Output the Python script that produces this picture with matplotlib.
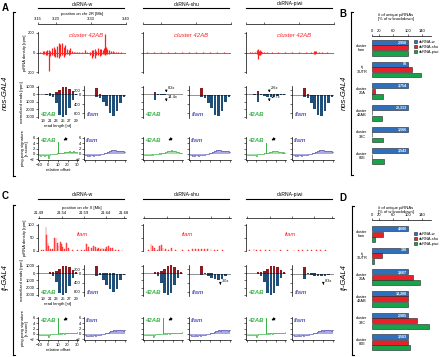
import numpy as np
import matplotlib.pyplot as plt
from matplotlib.lines import Line2D
from matplotlib.patches import Patch
from matplotlib.transforms import blended_transform_factory

plt.rcParams['font.family'] = ['Liberation Sans', 'DejaVu Sans']
plt.rcParams['axes.linewidth'] = 0.5
plt.rcParams['xtick.major.width'] = 0.4
plt.rcParams['ytick.major.width'] = 0.4
plt.rcParams['xtick.major.size'] = 1.5
plt.rcParams['ytick.major.size'] = 1.5
plt.rcParams['xtick.major.pad'] = 0.8
plt.rcParams['ytick.major.pad'] = 0.8
plt.rcParams['xtick.labelsize'] = 3
plt.rcParams['ytick.labelsize'] = 3

# ---------------- data ----------------
knockdowns = ['dsRNA-w', 'dsRNA-shu', 'dsRNA-piwi']

# piRNA density, panel A (chr 2R, cluster 42AB), plus / minus strand
a_w_pos = [3.157, 3.163, 3.167, 3.172, 3.176, 3.181, 3.185, 3.190, 3.195, 3.199,
           3.204, 3.209, 3.213, 3.218, 3.223, 3.227, 3.232, 3.237, 3.241, 3.246,
           3.251, 3.256, 3.260, 3.266, 3.274, 3.283, 3.290, 3.298, 3.303, 3.307,
           3.311, 3.316, 3.321, 3.325, 3.330, 3.335, 3.338, 3.341, 3.344, 3.347,
           3.352, 3.358, 3.363, 3.367, 3.372, 3.377, 3.386]
a_w_plus = [8, 15, 12, 20, 25, 30, 20, 45, 60, 35, 70, 100, 85, 95, 60, 75, 40, 30, 45, 12,
            10, 8, 6, 5, 4, 22, 6, 10, 25, 30, 35, 20, 50, 40, 35, 25, 45, 185, 60, 40,
            30, 20, 12, 10, 8, 6, 4]
a_w_minus = [-10, -15, -20, -30, -25, -185, -40, -30, -35, -50, -45, -60, -40, -30, -45, -25,
             -20, -30, -15, -10, -8, -6, -5, -4, -6, -8, -10, -25, -60, -40, -55, -30, -25,
             -35, -30, -20, -15, -25, -20, -15, -12, -10, -8, -6, -5, -4, -3]
a_shu_pos = [3.16, 3.18, 3.20, 3.22, 3.24, 3.26, 3.28, 3.30, 3.32, 3.34, 3.36, 3.38]
a_shu_plus = [3, 4, 5, 4, 3, 3, 2, 3, 4, 5, 3, 2]
a_shu_minus = [-3, -4, -4, -3, -3, -2, -2, -3, -3, -4, -3, -2]
a_piwi_pos = [3.160, 3.168, 3.175, 3.180, 3.183, 3.186, 3.189, 3.192, 3.196, 3.200, 3.210, 3.225,
              3.240, 3.260, 3.280, 3.300, 3.320, 3.335, 3.342, 3.346, 3.350, 3.356, 3.365, 3.380]
a_piwi_plus = [3, 5, 10, 25, 40, 20, 30, 15, 10, 6, 8, 5, 4, 3, 4, 5, 6, 10, 15, 20, 12, 6, 4, 3]
a_piwi_minus = [-3, -5, -10, -20, -70, -30, -25, -15, -8, -5, -4, -3, -3, -2, -3, -4, -5, -8,
                -20, -12, -10, -5, -3, -2]

# piRNA density, panel C (chr X, flam)
c_w_pos = [21.495, 21.500, 21.505, 21.507, 21.5095, 21.511, 21.515, 21.520, 21.5245, 21.5275,
           21.530, 21.532, 21.537, 21.540, 21.5425, 21.547, 21.552, 21.556, 21.565, 21.575,
           21.585, 21.592, 21.597, 21.601, 21.607, 21.612, 21.616, 21.620, 21.624, 21.628,
           21.631, 21.635, 21.639, 21.642, 21.646, 21.650, 21.654, 21.661, 21.669, 21.676]
c_w_val = [3, 5, 90, 60, 30, 20, 8, 6, 50, 50, 30, 20, 35, 25, 15, 8, 30, 10, 4, 3,
           3, 4, 25, 15, 10, 20, 15, 8, 10, 6, 12, 8, 6, 15, 18, 12, 10, 5, 5, 3]
c_shu_pos = [21.500, 21.505, 21.508, 21.512, 21.520, 21.525, 21.528, 21.532, 21.538, 21.545,
             21.552, 21.560, 21.575, 21.590, 21.598, 21.605, 21.612, 21.618, 21.625, 21.632,
             21.640, 21.648, 21.655, 21.665]
c_shu_val = [3, 25, 18, 10, 5, 20, 22, 12, 8, 5, 10, 3, 2, 3, 8, 6, 9, 7, 8, 6, 7, 5, 4, 3]
c_piwi_pos = [21.495, 21.505, 21.510, 21.520, 21.530, 21.540, 21.550, 21.565, 21.580, 21.595,
              21.605, 21.615, 21.625, 21.635, 21.645, 21.655, 21.665]
c_piwi_val = [2, 6, 4, 3, 5, 3, 4, 2, 2, 3, 5, 4, 5, 3, 4, 3, 2]

# read length histograms (normalized reads, rpm), lengths 18..29
lengths = [18, 19, 20, 21, 22, 23, 24, 25, 26, 27, 28, 29]
a_42ab_w_p = [0, 5, 20, 200, 100, 300, 600, 950, 1000, 700, 400, 100]
a_42ab_w_m = [0, -20, -60, -250, -400, -1200, -2700, -3000, -2700, -1800, -700, -150]
a_flam_w_p = [0, 0, 0, 300, 20, 10, 5, 5, 5, 5, 0, 0]
a_flam_w_m = [0, -10, -20, -80, -120, -300, -500, -800, -900, -700, -350, -100]
a_42ab_shu_p = [0, 0, 5, 350, 20, 10, 5, 5, 0, 0, 0, 0]
a_42ab_shu_m = [0, -5, -20, -700, -60, -40, -30, -20, -15, -10, -5, 0]
a_flam_shu_p = [0, 0, 5, 280, 10, 5, 5, 0, 0, 0, 0, 0]
a_flam_shu_m = [0, -10, -20, -100, -150, -350, -550, -850, -900, -700, -300, -100]
a_42ab_piwi_p = [0, 0, 5, 450, 30, 10, 5, 5, 0, 0, 0, 0]
a_42ab_piwi_m = [0, -10, -30, -1000, -150, -250, -300, -350, -300, -250, -150, -50]
a_flam_piwi_p = [0, 0, 5, 300, 15, 5, 5, 0, 0, 0, 0, 0]
a_flam_piwi_m = [0, -10, -20, -100, -150, -350, -600, -850, -900, -700, -350, -100]

c_42ab_w_p = [0, 10, 30, 100, 80, 250, 550, 900, 1000, 800, 450, 100]
c_42ab_w_m = [0, -20, -60, -150, -400, -1200, -2700, -3000, -2800, -1800, -700, -150]
c_flam_w_p = [0, 0, 0, 350, 20, 10, 5, 5, 5, 0, 0, 0]
c_flam_w_m = [0, -10, -20, -100, -60, -300, -500, -700, -800, -700, -300, -80]
c_42ab_shu_p = [0, 10, 30, 120, 90, 270, 600, 950, 1050, 800, 400, 100]
c_42ab_shu_m = [0, -20, -60, -180, -450, -1300, -2800, -3000, -2700, -1700, -650, -150]
c_flam_shu_p = [0, 0, 0, 350, 10, 5, 5, 0, 0, 0, 0, 0]
c_flam_shu_m = [0, -5, -10, -60, -30, -120, -200, -250, -300, -250, -120, -30]
c_42ab_piwi_p = [0, 10, 30, 110, 90, 260, 560, 900, 1000, 780, 420, 100]
c_42ab_piwi_m = [0, -20, -60, -160, -420, -1250, -2750, -3000, -2750, -1750, -680, -150]
c_flam_piwi_p = [0, 0, 0, 300, 10, 5, 5, 0, 0, 0, 0, 0]
c_flam_piwi_m = [0, -5, -10, -250, -30, -60, -90, -110, -120, -100, -60, -20]

# ping-pong signature (z-score), relative offsets -10..30
offsets = np.arange(-10, 31)
pp_42ab_A_w = [-0.5, -0.6, -0.7, -0.6, -0.5, -0.6, -0.7, -0.5, -0.4, -0.3,
               -1.5, -0.3, -0.2, -0.1, -0.2, -0.1, 0.0, -0.1, 0.1, 0.2,
               4.3, 0.3, 0.2, 0.3, 0.4, 0.5, 0.4, 0.6, 0.7, 0.8,
               0.7, 0.8, 0.9, 0.8, 0.7, 0.8, 0.9, 0.8, 0.7, 0.6, 0.5]
pp_42ab_A_shu = [-0.3, -0.4, -0.3, -0.5, -0.4, -0.3, -0.4, -0.3, -0.2, -0.3,
                 -0.2, -0.1, -0.2, 0.0, 0.1, 0.0, 0.2, 0.1, 0.3, 0.2,
                 0.3, 0.4, 0.5, 0.6, 0.8, 0.9, 1.0, 1.2, 1.1, 1.3,
                 1.2, 1.0, 1.1, 0.9, 0.8, 0.7, 0.6, 0.5, 0.4, 0.3, 0.3]
pp_42ab_A_piwi = [-0.4, -0.5, -0.5, -0.6, -0.5, -0.4, -0.5, -0.4, -0.3, -0.3,
                  -0.8, -0.2, -0.1, -0.1, 0.0, 0.1, 0.0, 0.1, 0.2, 0.2,
                  4.0, 0.3, 0.4, 0.5, 0.6, 0.7, 0.8, 1.0, 0.9, 1.1,
                  1.0, 0.9, 1.0, 0.8, 0.7, 0.8, 0.6, 0.5, 0.6, 0.4, 0.4]
pp_flam_A = [-0.5, -0.6, -0.7, -0.6, -0.7, -0.6, -0.5, -0.6, -0.7, -0.5,
             -0.6, -0.5, -0.4, -0.4, -0.3, -0.2, -0.1, 0.0, 0.1, 0.2,
             0.3, 0.5, 0.6, 0.8, 1.0, 1.2, 1.3, 1.5, 1.6, 1.5,
             1.3, 1.1, 1.2, 1.0, 1.1, 0.9, 1.0, 1.1, 0.9, 0.8, 0.7]
pp_42ab_C = [-0.4, -0.5, -0.5, -0.4, -0.5, -0.6, -0.5, -0.4, -0.5, -0.4,
             -1.0, -0.3, -0.2, -0.2, -0.1, -0.1, 0.0, -0.1, 0.0, 0.1,
             6.0, 0.2, 0.1, 0.2, 0.1, 0.2, 0.2, 0.1, 0.2, 0.3,
             0.2, 0.3, 0.2, 0.3, 0.4, 0.3, 0.4, 0.5, 0.4, 0.5, 0.6]
pp_flam_C = [-0.6, -0.7, -0.8, -0.7, -0.8, -0.6, -0.7, -0.8, -0.6, -0.5,
             -0.7, -0.6, -0.5, -0.4, -0.4, -0.3, -0.2, -0.1, 0.0, 0.1,
             0.2, 0.3, 0.4, 0.5, 0.7, 0.9, 1.2, 1.0, 1.3, 1.4,
             1.2, 1.5, 1.3, 1.4, 1.6, 1.5, 1.3, 1.4, 1.2, 1.5, 1.3]

# unique piRNAs, % of w knockdown
categories = ['cluster\nflam', "tj\n3'UTR", 'cluster\n20A', 'cluster\n42AB', 'cluster\n38C', 'cluster\n80E']
b_w = [100, 100, 100, 100, 100, 100]
b_shu = [100, 113, 9, 0.5, 0.5, 0.5]
b_piwi = [100, 136, 31, 27, 30, 33]
b_counts = ['2,958', '93', '3,754', '20,313', '1,566', '3,543']
d_w = [100, 100, 100, 100, 100, 100]
d_shu = [30, 28, 115, 100, 126, 100]
d_piwi = [8, 5, 135, 100, 159, 106]
d_counts = ['4,606', '120', '3,607', '18,208', '2,985', '3,503']

# ---------------- style ----------------
RED = '#ff1f1f'
DRED = '#8e1b1f'
DBLUE = '#1f4f78'
GREEN = '#3cb44b'
LGREEN = '#a6dfa9'
PURPLE = '#5a5ab4'
LPURPLE = '#aaaadf'
BBLUE = '#2f6fbb'
BRED = '#e8202a'
BGREEN = '#16a34a'

W, H = 440, 357
fig = plt.figure(figsize=(W / 100, H / 100), dpi=100)


def box(x0, y0, x1, y1):
    return fig.add_axes([x0 / W, 1 - y1 / H, (x1 - x0) / W, (y1 - y0) / H])


def spines(ax, keep):
    for s in ['top', 'right', 'bottom', 'left']:
        ax.spines[s].set_visible(s in keep)
    ax.patch.set_visible(False)


def hline(x0, x1, y, lw=0.8):
    fig.add_artist(Line2D([x0 / W, x1 / W], [1 - y / H, 1 - y / H], color='k', lw=lw))


def vline(x, y0, y1, lw=0.8):
    fig.add_artist(Line2D([x / W, x / W], [1 - y0 / H, 1 - y1 / H], color='k', lw=lw))


def bracket(x, y0, y1):
    vline(x, y0, y1)
    hline(x, x + 2, y0)
    hline(x, x + 2, y1)


def ftext(x, y, s, **kw):
    fig.text(x / W, 1 - y / H, s, **kw)


def ruler(x0, x1, y, xlim, ticks, labels, title):
    ax = box(x0, y, x1, y + 1)
    spines(ax, ('top',))
    ax.xaxis.tick_top()
    ax.set_xlim(xlim)
    ax.set_yticks([])
    ax.set_xticks(ticks)
    ax.set_xticklabels(labels if title else [])
    if title:
        ax.set_xlabel(title, fontsize=3, labelpad=1.5)
        ax.xaxis.set_label_position('top')


def hist(ax, plus, minus, ylim, yt, ytl, name, ncol, first):
    ax.bar(lengths, plus, width=0.75, color=DRED, lw=0)
    ax.bar(lengths, minus, width=0.75, color=DBLUE, lw=0)
    ax.axhline(0, color='k', lw=0.6, ls=(0, (1.2, 1.2)))
    ax.set_xlim(17.4, 29.6)
    ax.set_ylim(ylim)
    spines(ax, ('left',))
    ax.set_yticks(yt)
    ax.set_yticklabels(ytl if ncol == 0 else [])
    col = GREEN if name == '42AB' else PURPLE
    ax.text(0.06, 0.04, name, transform=ax.transAxes, color=col, style='italic',
            fontweight='bold', fontsize=4.3, va='bottom')
    if ncol == 0 and first:
        ax.set_xticks([19, 21, 23, 25, 27, 29])
        ax.tick_params(axis='x', length=0, pad=1)
        ax.set_xlabel('read length [nt]', fontsize=3, labelpad=0.8)
    else:
        ax.set_xticks([])


def fold_arrow(ax, x, y0, y1, txt):
    ax.annotate('', xy=(x, y1), xytext=(x, y0),
                arrowprops=dict(arrowstyle='-|>', lw=0.5, color='k', mutation_scale=3))
    ax.text(x + 0.4, y0, txt, fontsize=2.8, va='center', ha='left')


def pingpong(ax, vals, name, ncol, first, arrow):
    col, lcol = (GREEN, LGREEN) if name == '42AB' else (PURPLE, LPURPLE)
    ax.fill_between(offsets, vals, 0, step='mid', color=lcol, lw=0)
    ax.step(offsets, vals, where='mid', color=col, lw=0.5)
    ax.set_xlim(-11, 31)
    ax.set_ylim(-2.3, 6.3)
    spines(ax, ('left', 'bottom'))
    ax.spines['bottom'].set_position(('data', -2.3))
    ax.set_yticks([-2, 0, 2, 4, 6])
    ax.set_xticks([-10, 0, 10, 20, 30])
    if ncol == 0 and first:
        ax.set_xlabel('relative offset', fontsize=3, labelpad=0.8)
    else:
        ax.set_xticklabels([])
    if ncol != 0:
        ax.set_yticklabels([])
    ax.text(0.04, 0.97, name, transform=ax.transAxes, color=col, style='italic',
            fontweight='bold', fontsize=4.3, va='top')
    if arrow:
        ax.annotate('', xy=(13, 4.6), xytext=(22, 6.2),
                    arrowprops=dict(arrowstyle='-|>', lw=0.7, color='k', mutation_scale=4))


col_x = [38, 143, 246]

panels = {
    'A': dict(head=4, ruler=24, dens=(32, 73), hist=(86, 118), pp=(137, 160),
              xlim=(3.15, 3.40), ticks=[3.15, 3.20, 3.30, 3.40],
              tlabels=['3.15', '3.20', '3.30', '3.40'], title='position on chr 2R [Mb]'),
    'C': dict(head=195, ruler=218, dens=(224, 251), hist=(265, 296), pp=(317, 340),
              xlim=(21.487, 21.685), ticks=[21.49, 21.54, 21.59, 21.64, 21.68],
              tlabels=['21.49', '21.54', '21.59', '21.64', '21.68'], title='position on chr X [Mb]'),
}

a_dens = [(a_w_pos, a_w_plus, a_w_minus), (a_shu_pos, a_shu_plus, a_shu_minus),
          (a_piwi_pos, a_piwi_plus, a_piwi_minus)]
c_dens = [(c_w_pos, c_w_val), (c_shu_pos, c_shu_val), (c_piwi_pos, c_piwi_val)]
a_hist = [((a_42ab_w_p, a_42ab_w_m), (a_flam_w_p, a_flam_w_m)),
          ((a_42ab_shu_p, a_42ab_shu_m), (a_flam_shu_p, a_flam_shu_m)),
          ((a_42ab_piwi_p, a_42ab_piwi_m), (a_flam_piwi_p, a_flam_piwi_m))]
c_hist = [((c_42ab_w_p, c_42ab_w_m), (c_flam_w_p, c_flam_w_m)),
          ((c_42ab_shu_p, c_42ab_shu_m), (c_flam_shu_p, c_flam_shu_m)),
          ((c_42ab_piwi_p, c_42ab_piwi_m), (c_flam_piwi_p, c_flam_piwi_m))]
a_pp = [(pp_42ab_A_w, pp_flam_A), (pp_42ab_A_shu, pp_flam_A), (pp_42ab_A_piwi, pp_flam_A)]
c_pp = [(pp_42ab_C, pp_flam_C), (pp_42ab_C, pp_flam_C), (pp_42ab_C, pp_flam_C)]

for key in ['A', 'C']:
    p = panels[key]
    for i, x0 in enumerate(col_x):
        x1 = x0 + 88
        ftext((x0 + x1) / 2, p['head'], knockdowns[i], fontsize=3.6, ha='center', va='center')
        hline(x0, x1 - 2, p['head'] + 4)
        ruler(x0, x1, p['ruler'], p['xlim'], p['ticks'], p['tlabels'], p['title'] if i == 0 else None)

        # density
        ax = box(x0, p['dens'][0], x1, p['dens'][1])
        spines(ax, ('left',))
        ax.set_xlim(p['xlim'])
        ax.set_xticks([])
        if key == 'A':
            pos, plus, minus = a_dens[i]
            ax.axhline(0, color=RED, lw=0.6)
            ax.vlines(pos, 0, plus, color=RED, lw=0.9)
            ax.vlines(pos, minus, 0, color=RED, lw=0.9)
            ax.set_ylim(-210, 210)
            ax.set_yticks([-200, 0, 200])
            ax.set_yticklabels(['200', '0', '200'] if i == 0 else [])
            ax.text(0.55, 0.97, 'cluster 42AB', transform=ax.transAxes, color=RED,
                    style='italic', fontsize=4.3, ha='center', va='top')
        else:
            pos, val = c_dens[i]
            ax.axhline(0, color=RED, lw=0.6)
            ax.bar(pos, val, width=0.0022, color='#ff5a5a', lw=0.3, edgecolor=RED)
            ax.set_ylim(0, 102)
            ax.set_yticks([0, 50, 100])
            ax.set_yticklabels(['0', '50', '100'] if i == 0 else [])
            ax.text(0.5, 0.72, 'flam', transform=ax.transAxes, color=RED,
                    style='italic', fontsize=4.3, ha='center', va='top')
        if i == 0:
            ax.set_ylabel('piRNA density [rpm]', fontsize=3, labelpad=1)

        # read length histograms
        hd = a_hist[i] if key == 'A' else c_hist[i]
        ax1 = box(x0, p['hist'][0], x0 + 40, p['hist'][1])
        hist(ax1, hd[0][0], hd[0][1], (-3150, 1100), [1000, 0, -1000, -2000, -3000],
             ['1000', '0', '1000', '2000', '3000'], '42AB', i, True)
        if i == 0:
            ax1.set_ylabel('normalized reads [rpm]', fontsize=3, labelpad=1)
        ax2 = box(x0 + 46, p['hist'][0], x1, p['hist'][1])
        hist(ax2, hd[1][0], hd[1][1], (-1000, 380), [200, 0, -400, -800],
             ['200', '0', '400', '800'], 'flam', i, False)
        if key == 'A' and i == 1:
            fold_arrow(ax1, 24.5, 900, 250, '8.2x')
            fold_arrow(ax1, 24.5, -400, -1300, '14.4x')
        if key == 'A' and i == 2:
            fold_arrow(ax1, 24.5, 900, 250, '2.6x')
            fold_arrow(ax1, 24.5, -400, -1300, '12.7x')
        if key == 'C' and i == 1:
            fold_arrow(ax2, 26.5, -330, -620, '3.0x')
        if key == 'C' and i == 2:
            fold_arrow(ax2, 26.5, -330, -620, '8.3x')

        # ping-pong signature
        pd_ = a_pp[i] if key == 'A' else c_pp[i]
        ax3 = box(x0, p['pp'][0], x0 + 40, p['pp'][1])
        pingpong(ax3, pd_[0], '42AB', i, True, True)
        if i == 0:
            ax3.set_ylabel('ping-pong signature\n[z-score]', fontsize=3, labelpad=1, linespacing=1)
        ax4 = box(x0 + 46, p['pp'][0], x1, p['pp'][1])
        pingpong(ax4, pd_[1], 'flam', i, False, False)

# ---------------- panels B and D ----------------
bar_sets = [
    dict(y0=36, y1=166, w=b_w, shu=b_shu, piwi=b_piwi, counts=b_counts, ylim=(5.45, -0.55), title=15, leg=38),
    dict(y0=220, y1=352, w=d_w, shu=d_shu, piwi=d_piwi, counts=d_counts, ylim=(5.45, -0.65), title=208, leg=230),
]
for bs in bar_sets:
    ax = box(372, bs['y0'], 431, bs['y1'])
    idx = np.arange(len(categories))
    ax.barh(idx - 0.25, bs['w'], height=0.23, color=BBLUE, edgecolor='#222222', lw=0.4)
    ax.barh(idx, bs['shu'], height=0.23, color=BRED, edgecolor='#222222', lw=0.4)
    ax.barh(idx + 0.25, bs['piwi'], height=0.23, color=BGREEN, edgecolor='#222222', lw=0.4)
    for k, c in enumerate(bs['counts']):
        ax.text(97, k - 0.25, c, color='white', fontsize=2.6, ha='right', va='center', fontweight='bold')
    ax.set_xlim(0, 165)
    ax.set_ylim(bs['ylim'])
    spines(ax, ('top',))
    ax.xaxis.tick_top()
    ax.set_xticks([0, 20, 60, 100, 140])
    ax.set_yticks([])
    tr = blended_transform_factory(ax.transAxes, ax.transData)
    for k, c in enumerate(categories):
        ax.text(-0.17, k, c, transform=tr, fontsize=2.8, ha='center', va='center', linespacing=1.1)
    ftext(396, bs['title'], '# of unique piRNAs', fontsize=3, ha='center', va='center')
    ftext(396, bs['title'] + 4, '[% of w knockdown]', fontsize=3, ha='center', va='center')
    handles = [Patch(facecolor=BBLUE, edgecolor='#222222', lw=0.4, label='dsRNA-w'),
               Patch(facecolor=BRED, edgecolor='#222222', lw=0.4, label='dsRNA-shu'),
               Patch(facecolor=BGREEN, edgecolor='#222222', lw=0.4, label='dsRNA-piwi')]
    fig.legend(handles=handles, loc='upper left', bbox_to_anchor=(412 / W, 1 - bs['leg'] / H),
               fontsize=2.8, handlelength=0.8, handleheight=0.8, handletextpad=0.4,
               labelspacing=0.25, borderpad=0, frameon=False)

# ---------------- panel letters, brackets, driver labels ----------------
for letter, x, y in [('A', 5, 8), ('B', 343, 14), ('C', 5, 196), ('D', 343, 198)]:
    ftext(x, y, letter, fontsize=7, fontweight='bold', ha='center', va='center')
bracket(13, 12, 176)
bracket(13, 205, 355)
bracket(351, 12, 175)
bracket(352, 206, 355)
ftext(5, 93, 'nos-GAL4', rotation=90, style='italic', fontsize=5.5, ha='center', va='center')
ftext(5, 277, 'tj-GAL4', rotation=90, style='italic', fontsize=5.5, ha='center', va='center')
ftext(344, 93, 'nos-GAL4', rotation=90, style='italic', fontsize=5.5, ha='center', va='center')
ftext(344, 277, 'tj-GAL4', rotation=90, style='italic', fontsize=5.5, ha='center', va='center')

fig.savefig('out.png', dpi=100)
